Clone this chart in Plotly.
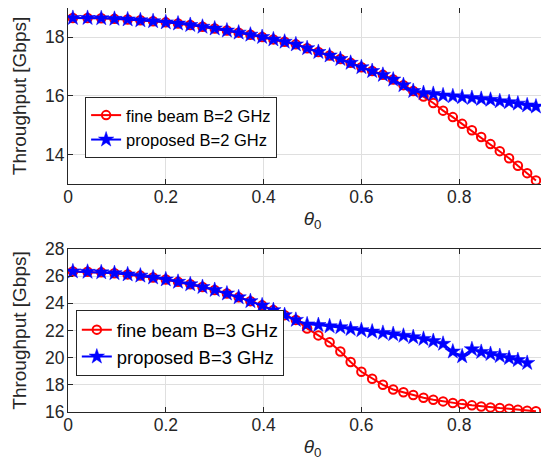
import plotly.graph_objects as go

# ---------------- data ----------------
theta = [0.010, 0.040, 0.068, 0.095, 0.122, 0.148, 0.174, 0.200, 0.225, 0.250,
         0.275, 0.300, 0.325, 0.349, 0.373, 0.397, 0.420, 0.443, 0.466, 0.489,
         0.512, 0.535, 0.557, 0.578, 0.600, 0.622, 0.644, 0.665, 0.686, 0.706,
         0.727, 0.747, 0.767, 0.787, 0.806, 0.826, 0.845, 0.864, 0.883, 0.902,
         0.920, 0.939, 0.957]

top_fine = [18.66, 18.66, 18.65, 18.63, 18.61, 18.58, 18.55, 18.51, 18.47, 18.42,
            18.36, 18.30, 18.23, 18.16, 18.09, 18.01, 17.93, 17.85, 17.76, 17.63,
            17.50, 17.38, 17.26, 17.13, 16.98, 16.85, 16.72, 16.56, 16.37, 16.17,
            15.98, 15.76, 15.50, 15.28, 15.05, 14.83, 14.60, 14.36, 14.12, 13.88,
            13.62, 13.37, 13.12]

top_prop = [18.66, 18.66, 18.65, 18.63, 18.61, 18.58, 18.55, 18.51, 18.47, 18.42,
            18.36, 18.30, 18.23, 18.16, 18.09, 18.01, 17.93, 17.85, 17.76, 17.63,
            17.50, 17.38, 17.26, 17.13, 16.98, 16.85, 16.72, 16.56, 16.37, 16.17,
            16.10, 16.07, 16.02, 15.99, 15.96, 15.93, 15.90, 15.87, 15.82, 15.79,
            15.74, 15.68, 15.64]

bot_fine = [26.35, 26.32, 26.28, 26.22, 26.13, 26.04, 25.90, 25.76, 25.58, 25.40,
            25.20, 24.98, 24.72, 24.44, 24.16, 23.85, 23.50, 23.13, 22.78, 22.15,
            21.64, 21.13, 20.46, 19.68, 18.96, 18.45, 18.00, 17.66, 17.45, 17.25,
            17.05, 16.90, 16.78, 16.66, 16.58, 16.49, 16.41, 16.34, 16.29, 16.24,
            16.17, 16.10, 16.05]

bot_prop = [26.35, 26.32, 26.28, 26.22, 26.13, 26.04, 25.90, 25.76, 25.58, 25.40,
            25.20, 24.98, 24.72, 24.44, 24.16, 23.85, 23.50, 23.13, 22.78, 22.45,
            22.40, 22.31, 22.24, 22.11, 22.02, 21.92, 21.82, 21.73, 21.61, 21.51,
            21.38, 21.22, 21.02, 20.45, 20.10, 20.62, 20.42, 20.27, 20.12, 19.97,
            19.82, 19.61]

x_ticks = [0, 0.2, 0.4, 0.6, 0.8, 1]
x_ticktext = ["0", "0.2", "0.4", "0.6", "0.8", "1"]
top_yticks = [14, 16, 18]
bot_yticks = [16, 18, 20, 22, 24, 26, 28]

names_top = ["fine beam B=2 GHz", "proposed B=2 GHz"]
names_bot = ["fine beam B=3 GHz", "proposed B=3 GHz"]

# ---------------- styling ----------------
RED = "#ff0000"
BLUE = "#0000ff"
AX = "#262626"
GRID = "#dfdfdf"
FONT = "Liberation Sans, Arial, sans-serif"

fig = go.Figure()

def red_trace(x, y, name, xa, ya, leg):
    return go.Scatter(x=x, y=y, name=name, xaxis=xa, yaxis=ya, legend=leg,
                      mode="lines+markers",
                      line=dict(color=RED, width=2),
                      marker=dict(symbol="circle-open", size=8.5, color=RED,
                                  line=dict(width=2, color=RED)))

def blue_trace(x, y, name, xa, ya, leg):
    return go.Scatter(x=x, y=y, name=name, xaxis=xa, yaxis=ya, legend=leg,
                      mode="lines+markers",
                      line=dict(color=BLUE, width=2),
                      marker=dict(symbol="star", size=11.5, color=BLUE,
                                  line=dict(width=0.5, color=BLUE)))

fig.add_trace(red_trace(theta, top_fine, names_top[0], "x", "y", "legend"))
fig.add_trace(blue_trace(theta, top_prop, names_top[1], "x", "y", "legend"))
fig.add_trace(red_trace(theta, bot_fine, names_bot[0], "x2", "y2", "legend2"))
fig.add_trace(blue_trace(theta[:len(bot_prop)], bot_prop, names_bot[1], "x2", "y2", "legend2"))

xcommon = dict(range=[0, 1], tickvals=x_ticks, ticktext=x_ticktext,
               ticks="inside", ticklen=5, tickwidth=1, tickcolor=AX,
               showline=True, linecolor=AX, linewidth=1, mirror="ticks",
               showgrid=True, gridcolor=GRID, gridwidth=1, zeroline=False,
               tickfont=dict(family=FONT, size=17.5, color=AX),
               ticklabelstandoff=-3,
               automargin=False,
               title=dict(text="<i>θ</i><sub>0</sub>", standoff=5,
                          font=dict(family=FONT, size=19, color=AX)))
ycommon = dict(ticks="inside", ticklen=5, tickwidth=1, tickcolor=AX,
               showline=True, linecolor=AX, linewidth=1, mirror="ticks",
               showgrid=True, gridcolor=GRID, gridwidth=1, zeroline=False,
               tickfont=dict(family=FONT, size=17.5, color=AX),
               ticklabelstandoff=-1,
               automargin=False,
               title=dict(text="Throughput [Gbps]", standoff=13,
                          font=dict(family=FONT, size=19, color=AX)))

legcommon = dict(xanchor="left", yanchor="top", bgcolor="white",
                 bordercolor=AX, borderwidth=1, tracegroupgap=0,
                 itemwidth=30)

fig.update_layout(
    width=549, height=465,
    margin=dict(l=60, r=0, t=0, b=61),
    paper_bgcolor="white", plot_bgcolor="white",
    font=dict(family=FONT, color=AX),
    xaxis=dict(domain=[0, 1], anchor="y", **xcommon),
    yaxis=dict(domain=[0.5644, 1], anchor="x", range=[13, 19], tickvals=top_yticks, **ycommon),
    xaxis2=dict(domain=[0, 1], anchor="y2", **xcommon),
    yaxis2=dict(domain=[0, 0.4035], anchor="x2", range=[16, 28], tickvals=bot_yticks, **ycommon),
    legend=dict(x=0.035, y=0.78, font=dict(family=FONT, size=16.5, color="#000000"), **legcommon),
    legend2=dict(x=0.016, y=0.252, font=dict(family=FONT, size=18.4, color="#000000"), **legcommon),
    showlegend=True,
)

fig.write_html("out.html")
